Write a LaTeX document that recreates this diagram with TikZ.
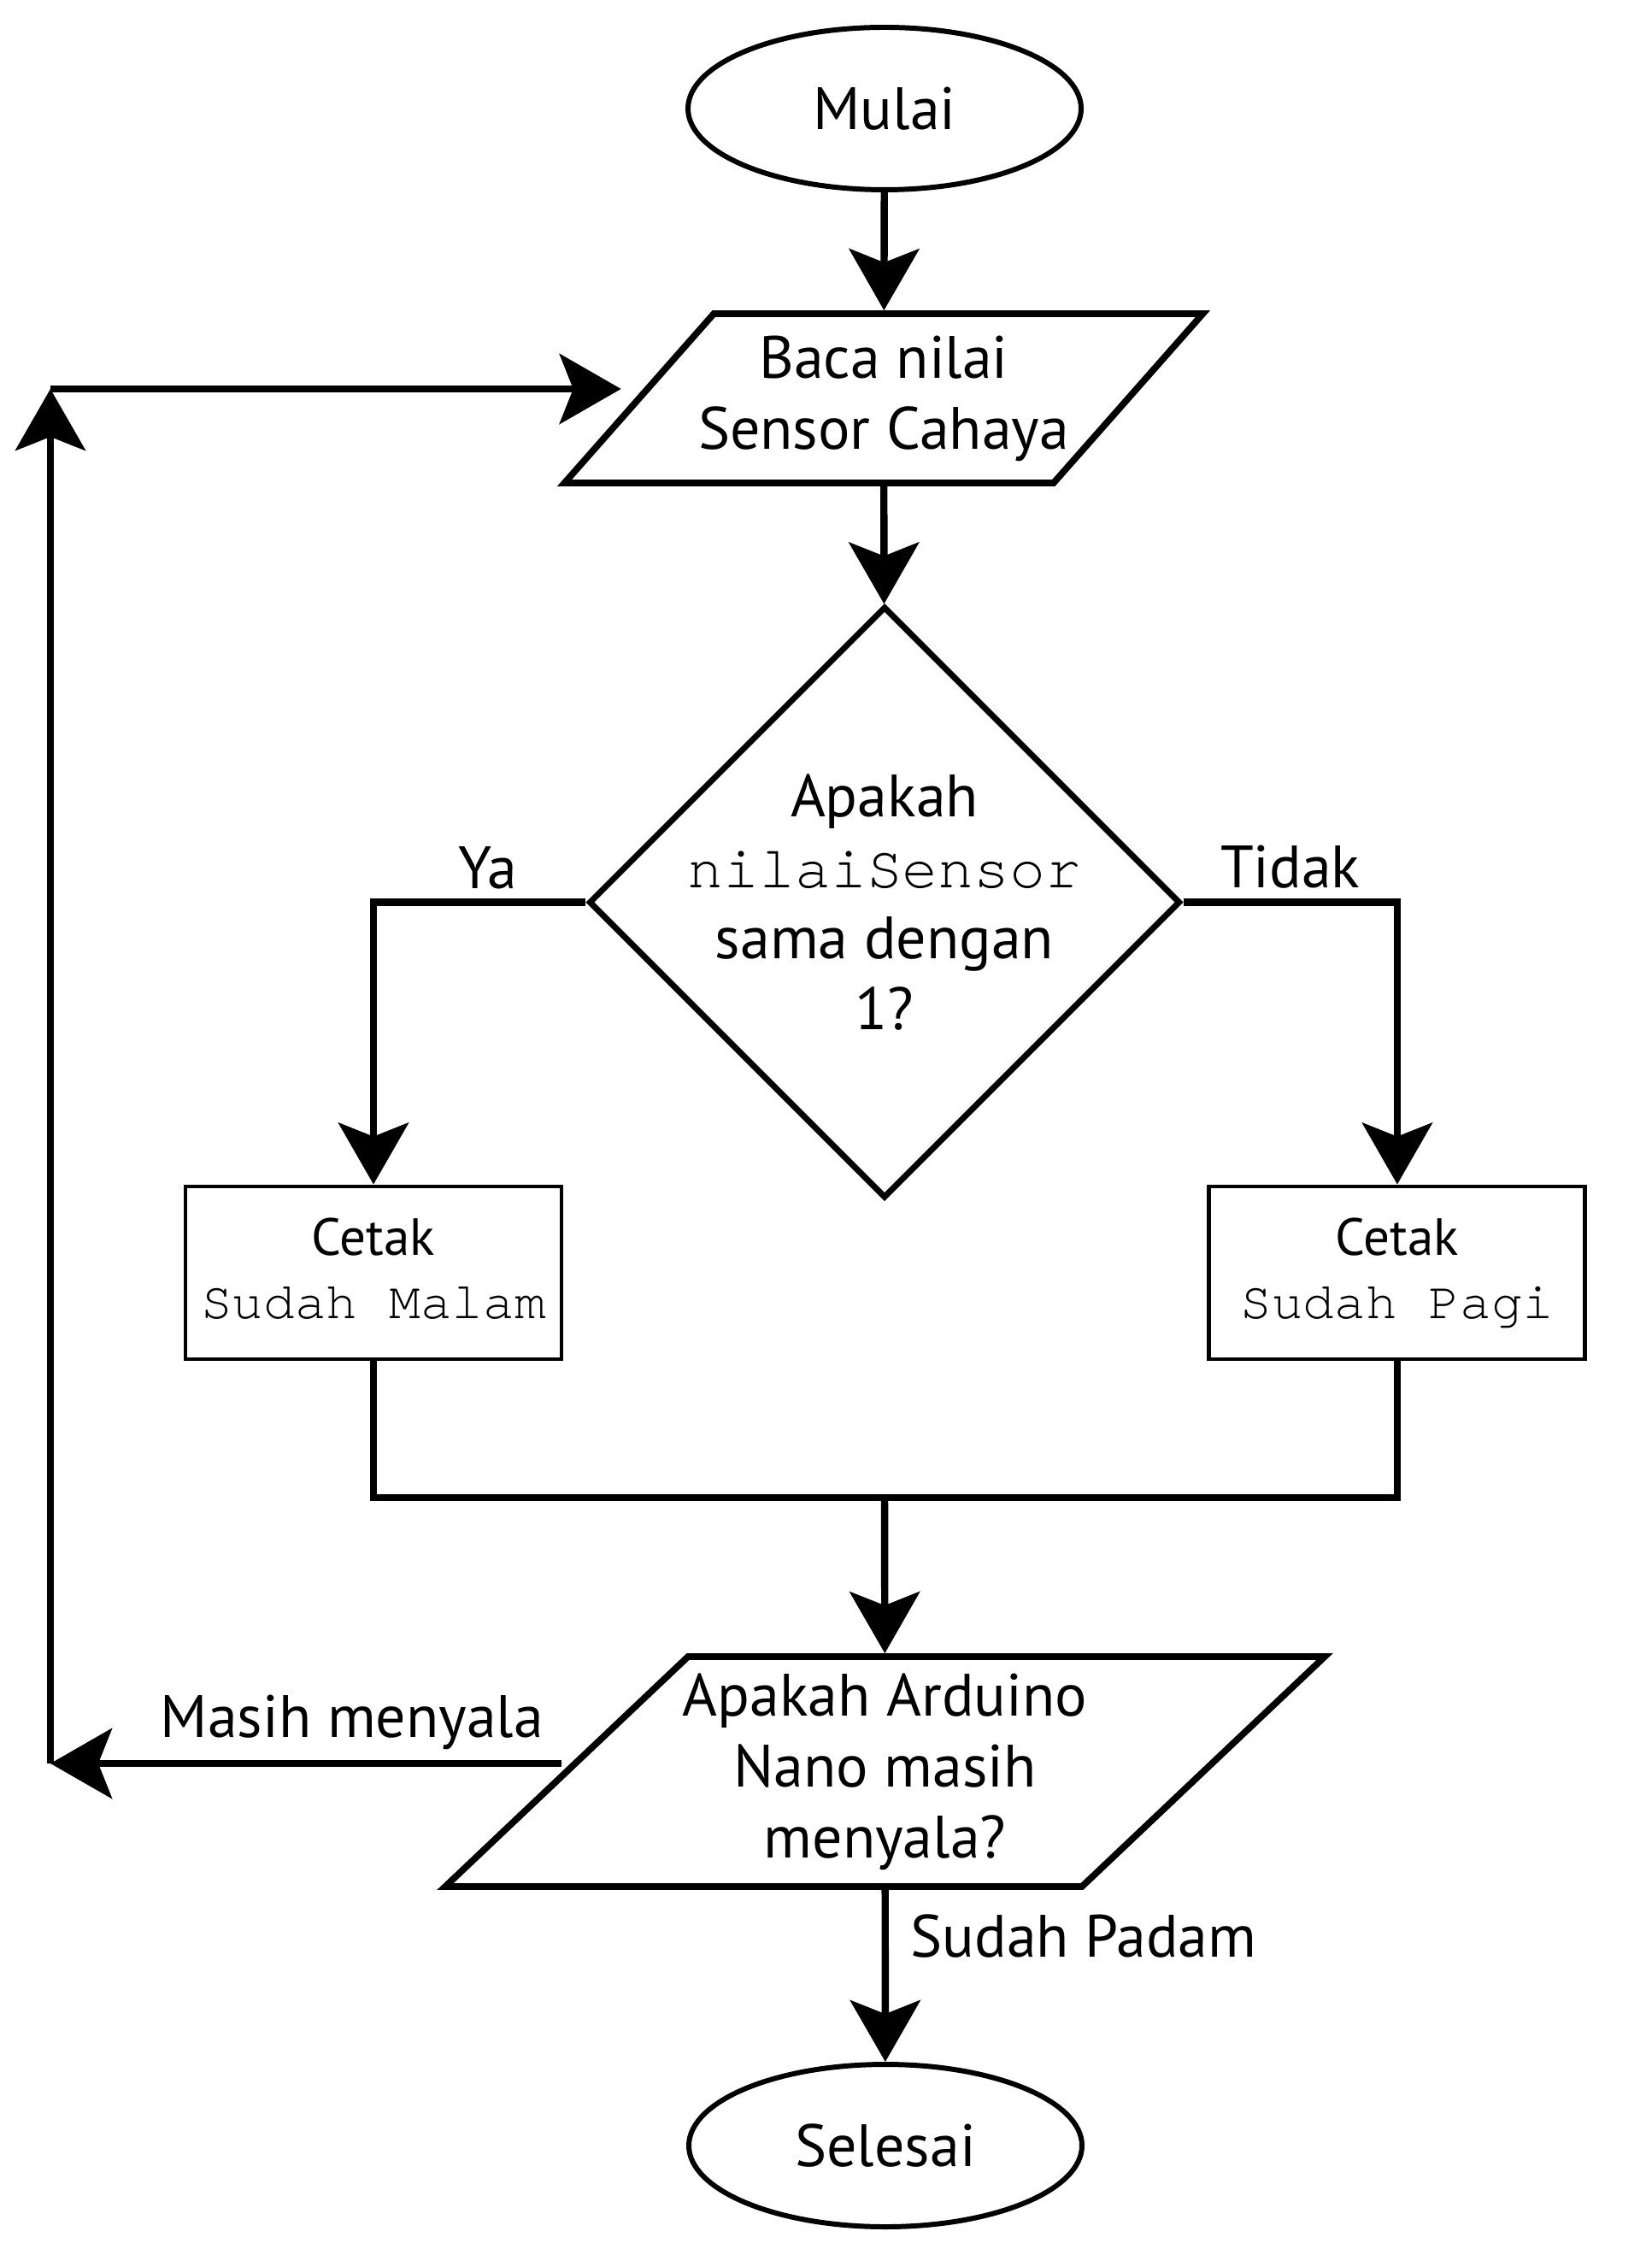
\documentclass[tikz,border=0pt]{standalone}
\usepackage{fontspec}
\setmainfont{PT Sans}
\setmonofont{TeX Gyre Cursor}
\usetikzlibrary{positioning, shapes.geometric, arrows.meta}

\begin{document}
\begin{tikzpicture}[
    >={Stealth[length=0.72cm, width=0.82cm, inset=0.16cm]},
    font=\fontsize{19.9pt}{23.6pt}\selectfont,
    terminal/.style={ellipse, draw, line width=1.7pt, minimum width=4.6cm, minimum height=1.9cm, inner sep=0pt},
    io/.style={trapezium, trapezium left angle=45, trapezium right angle=135, trapezium stretches, draw, line width=2.2pt, align=center, inner xsep=-0.5cm, inner ysep=0pt},
    decision/.style={diamond, aspect=1, draw, line width=2pt, minimum width=6.92cm, minimum height=6.92cm, align=center, inner sep=-1cm},
    process/.style={rectangle, draw, line width=1.4pt, minimum width=4.4cm, minimum height=2.02cm, align=center, inner sep=0.1cm, text depth=0.3em, font=\fontsize{17.4pt}{20.8pt}\selectfont},
    flow/.style={->, line width=2.4pt},
    link/.style={line width=2.4pt}
  ]
  \useasboundingbox (0,0) rectangle (19.32,-26.31);

  % --- BLOK UTAMA ---
  \node[terminal] (mulai) at (10.35,-1.27) {Mulai};
  \node[io, minimum width=7.47cm, minimum height=1.98cm] (baca) at (10.34,-4.66) {Baca nilai\\Sensor Cahaya};
  \node[decision] (cek) at (10.35,-10.555) {Apakah\\\texttt{nilaiSensor}\\sama dengan\\1?};

  % Cabang cetak
  \node[process] (malam) at (4.37,-14.89) {Cetak\\\texttt{Sudah Malam}};
  \node[process, right=7.53cm of malam] (pagi) {Cetak\\\texttt{Sudah Pagi}};

  % Cek Arduino dan akhir
  \node[io, minimum width=10.31cm, minimum height=2.69cm] (arduino) at (10.355,-20.725) {Apakah Arduino\\Nano masih\\menyala?};
  \node[terminal] (selesai) at (10.36,-25.10) {Selesai};

  % titik bantu
  \coordinate (gabung) at (10.35,-17.52);
  \coordinate (pojokbawah) at (0.59,-20.63);
  \coordinate (pojokatas) at (0.59,-4.55);

  % --- PANAH ---
  \draw[flow] (mulai) -- (baca);
  \draw[flow] (baca) -- (cek);
  \draw[flow] (cek.west) -| (malam.north) node[pos=0.23, above] {Ya};
  \draw[flow] (cek.east) -| (pagi.north) node[pos=0.25, above] {Tidak};

  % gabungan kedua cabang
  \draw[link] (malam.south) |- (gabung) -| (pagi.south);
  \draw[flow] (gabung) -- (arduino);

  % kembali membaca sensor
  \draw[flow] (arduino.west |- pojokbawah) -- (pojokbawah) node[pos=0.41, above] {Masih menyala};
  \draw[flow] (pojokbawah) -- (pojokatas);
  \draw[flow, shorten >=0.16cm] (pojokatas) -- (baca.west |- pojokatas);

  \draw[flow] (arduino) -- (selesai) node[pos=0.27, right=0.14cm] {Sudah Padam};

\end{tikzpicture}
\end{document}
